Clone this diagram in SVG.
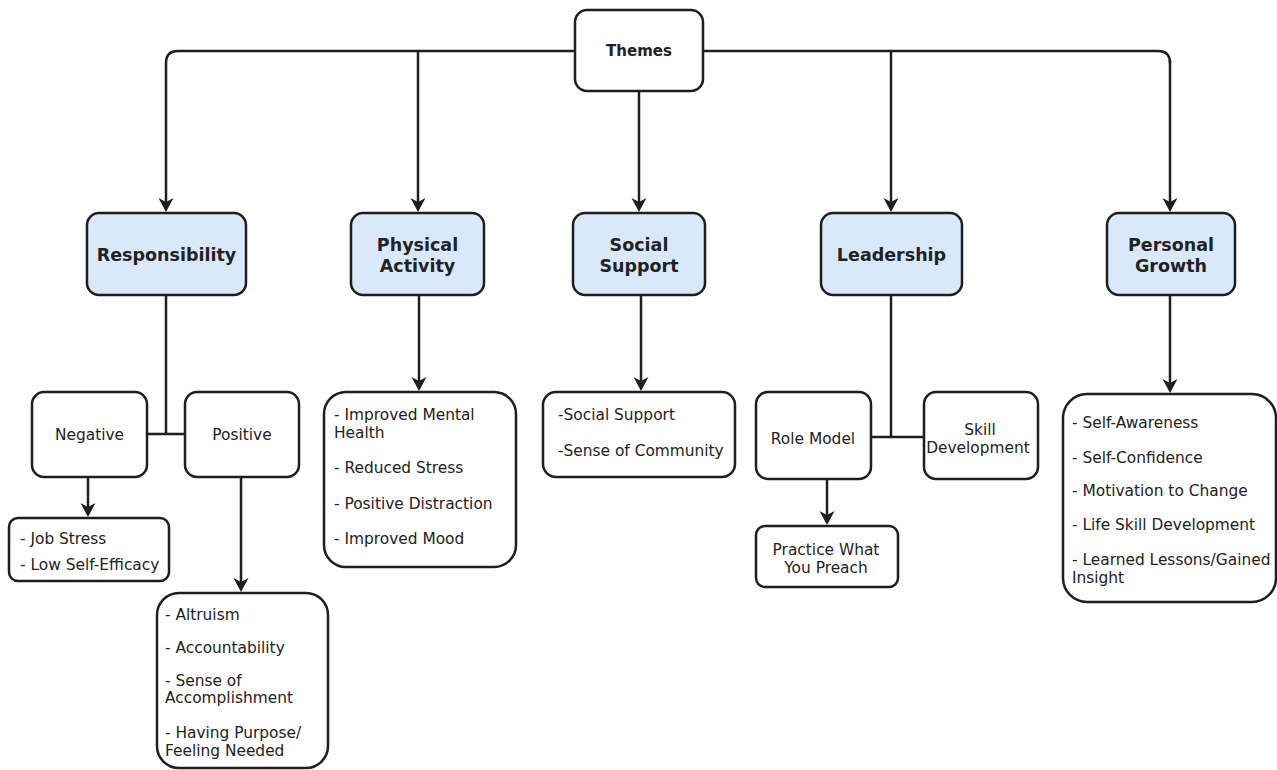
<svg xmlns="http://www.w3.org/2000/svg" width="1277" height="770" viewBox="0 0 1277 770">
<style>
.box{fill:#ffffff;stroke:#1e1e1e;stroke-width:2.5}
.cat{fill:#dae8fc;stroke:#1e1e1e;stroke-width:2.5}
.t{font-family:Verdana,"DejaVu Sans",sans-serif;font-size:15.4px;fill:#222}
.c{text-anchor:middle}
.h{font-family:Verdana,"DejaVu Sans",sans-serif;font-size:17.5px;font-weight:bold;fill:#222;text-anchor:middle}
.th{font-family:Verdana,"DejaVu Sans",sans-serif;font-size:15px;font-weight:bold;fill:#222;text-anchor:middle}
.ln{fill:none;stroke:#1e1e1e;stroke-width:2.5}
.ar{marker-end:url(#arr)}
</style>
<defs>
<marker id="arr" markerUnits="userSpaceOnUse" markerWidth="17" markerHeight="17" refX="4" refY="7.5" orient="auto">
<path d="M0,0 L14,7.5 L0,15 L4,7.5 Z" fill="#1e1e1e"/>
</marker>
</defs>
<rect width="1277" height="770" fill="#ffffff"/>
<g id="connectors">
<path class="ln ar" d="M575,51 H178 Q166,51 166,63 V202"/>
<path class="ln" d="M703,51 H1158 Q1170,51 1170,63"/>
<path class="ln ar" d="M1170,60 V202"/>
<path class="ln ar" d="M418,51 V202"/>
<path class="ln ar" d="M639,91 V202"/>
<path class="ln ar" d="M891,51 V202"/>
<path class="ln" d="M166,295 V434"/>
<path class="ln" d="M147,434 H185"/>
<path class="ln ar" d="M88,477 V507"/>
<path class="ln ar" d="M241,477 V582"/>
<path class="ln ar" d="M419,295 V381"/>
<path class="ln ar" d="M641,295 V381"/>
<path class="ln" d="M891,295 V437"/>
<path class="ln" d="M871,437 H924"/>
<path class="ln ar" d="M827,479 V515"/>
<path class="ln ar" d="M1170,295 V383"/>
</g>
<g id="themes"><rect class="box" x="575" y="10" width="128" height="81" rx="12"/><text class="th" x="639" y="56">Themes</text></g>
<g id="responsibility"><rect class="cat" x="87" y="213" width="159" height="82" rx="12"/><text class="h" x="166.5" y="261">Responsibility</text></g>
<g id="physical-activity"><rect class="cat" x="351" y="213" width="133" height="82" rx="12"/><text class="h" x="417.5" y="250.5">Physical</text><text class="h" x="417.5" y="271.5">Activity</text></g>
<g id="social-support"><rect class="cat" x="573" y="213" width="132" height="82" rx="12"/><text class="h" x="639" y="250.5">Social</text><text class="h" x="639" y="271.5">Support</text></g>
<g id="leadership"><rect class="cat" x="821" y="213" width="141" height="82" rx="12"/><text class="h" x="891.5" y="261">Leadership</text></g>
<g id="personal-growth"><rect class="cat" x="1107" y="213" width="128" height="82" rx="12"/><text class="h" x="1171" y="250.5">Personal</text><text class="h" x="1171" y="271.5">Growth</text></g>
<g id="negative"><rect class="box" x="32" y="392" width="115" height="85" rx="12"/><text class="t c" x="89.5" y="439.5">Negative</text></g>
<g id="positive"><rect class="box" x="185" y="392" width="114" height="85" rx="12"/><text class="t c" x="242" y="439.5">Positive</text></g>
<g id="negative-list"><rect class="box" x="9" y="518" width="160" height="63" rx="9"/><text class="t" x="20" y="544">- Job Stress</text><text class="t" x="20" y="569.5">- Low Self-Efficacy</text></g>
<g id="positive-list"><rect class="box" x="157" y="593" width="171" height="175" rx="22"/>
<text class="t" x="165" y="620">- Altruism</text>
<text class="t" x="165" y="653">- Accountability</text>
<text class="t" x="165" y="685.5">- Sense of</text>
<text class="t" x="165" y="703">Accomplishment</text>
<text class="t" x="165" y="738">- Having Purpose/</text>
<text class="t" x="165" y="755.5">Feeling Needed</text></g>
<g id="physical-list"><rect class="box" x="324" y="392" width="192" height="175" rx="22"/>
<text class="t" x="334" y="419.5">- Improved Mental</text>
<text class="t" x="334" y="437.5">Health</text>
<text class="t" x="334" y="472.5">- Reduced Stress</text>
<text class="t" x="334" y="508.5">- Positive Distraction</text>
<text class="t" x="334" y="543.5">- Improved Mood</text></g>
<g id="social-list"><rect class="box" x="543" y="392" width="192" height="85" rx="13"/>
<text class="t" x="558" y="419.5">-Social Support</text>
<text class="t" x="558" y="455.5">-Sense of Community</text></g>
<g id="role-model"><rect class="box" x="756" y="392" width="115" height="87" rx="12"/><text class="t c" x="813" y="443.5">Role Model</text></g>
<g id="skill-development"><rect class="box" x="924" y="392" width="114" height="87" rx="12"/><text class="t c" x="980" y="434.5">Skill</text><text class="t c" x="978" y="452.5">Development</text></g>
<g id="practice"><rect class="box" x="756" y="526" width="142" height="61" rx="9"/><text class="t c" x="826" y="554.5">Practice What</text><text class="t c" x="826" y="572.5">You Preach</text></g>
<g id="personal-list"><rect class="box" x="1063" y="394" width="213" height="208" rx="24"/>
<text class="t" x="1072" y="428">- Self-Awareness</text>
<text class="t" x="1072" y="462.5">- Self-Confidence</text>
<text class="t" x="1072" y="495.5">- Motivation to Change</text>
<text class="t" x="1072" y="530">- Life Skill Development</text>
<text class="t" x="1072" y="564.5">- Learned Lessons/Gained</text>
<text class="t" x="1072" y="582.5">Insight</text></g>
</svg>
